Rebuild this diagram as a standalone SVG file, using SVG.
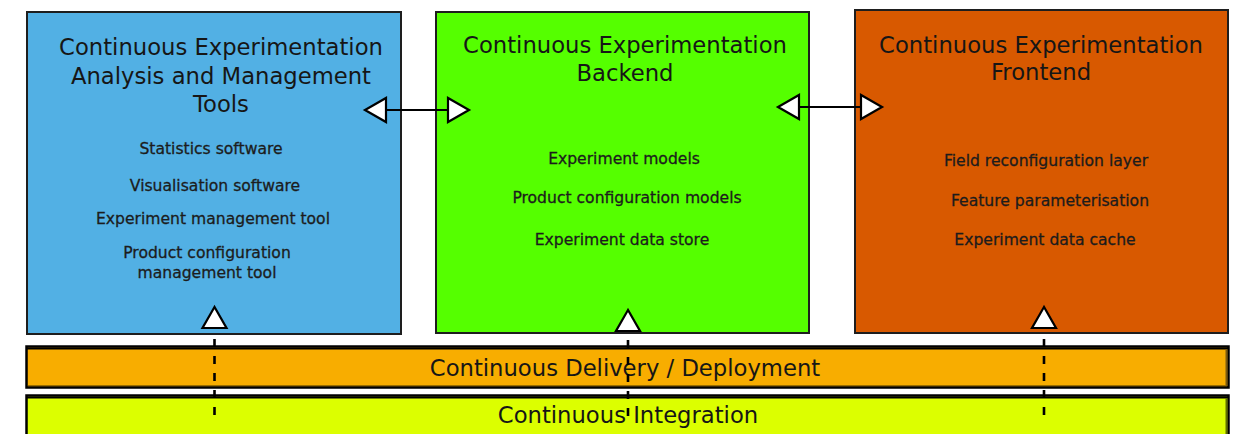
<svg xmlns="http://www.w3.org/2000/svg" width="1237" height="434" viewBox="0 0 1237 434">
  <style>
    .box { stroke: #1e1e1e; stroke-width: 2; }
    .band { stroke: #000; stroke-width: 2.5; }
    .title { font-family: "DejaVu Sans", "Liberation Sans", sans-serif; font-size: 22.7px; fill: #161616; text-anchor: middle; }
    .item { font-family: "DejaVu Sans", "Liberation Sans", sans-serif; font-size: 15.6px; fill: #1c1c1c; stroke: #1c1c1c; stroke-width: 0.3; text-anchor: middle; }
    .bandtext { font-family: "DejaVu Sans", "Liberation Sans", sans-serif; font-size: 22.7px; fill: #161616; text-anchor: middle; }
    .link { stroke: #000; stroke-width: 2; fill: none; }
    .dash { stroke: #000; stroke-width: 2.6; fill: none; stroke-dasharray: 8 9; }
    .head { fill: #fff; stroke: #000; stroke-width: 2.2; stroke-linejoin: miter; }
  </style>
  <defs>
    <!-- open triangular arrowhead, tip at the origin, pointing along +x -->
    <path id="head" class="head" d="M0,0 L-21,-12 L-21,12 Z"/>
  </defs>

  <rect width="1237" height="434" fill="#fff"/>

  <!-- analysis and management tools -->
  <g id="node-analysis">
    <rect class="box" x="27" y="12" width="374" height="322" fill="#52b0e4"/>
    <text class="title" x="221" y="55">Continuous Experimentation</text>
    <text class="title" x="221" y="84">Analysis and Management</text>
    <text class="title" x="221" y="112">Tools</text>
    <text class="item" x="211" y="154">Statistics software</text>
    <text class="item" x="215" y="191">Visualisation software</text>
    <text class="item" x="213" y="224">Experiment management tool</text>
    <text class="item" x="207" y="258">Product configuration</text>
    <text class="item" x="207" y="278">management tool</text>
  </g>

  <!-- backend -->
  <g id="node-backend">
    <rect class="box" x="436" y="12" width="373" height="321" fill="#55ff00"/>
    <text class="title" x="625" y="53">Continuous Experimentation</text>
    <text class="title" x="625" y="81">Backend</text>
    <text class="item" x="624" y="164">Experiment models</text>
    <text class="item" x="627" y="203">Product configuration models</text>
    <text class="item" x="622" y="245">Experiment data store</text>
  </g>

  <!-- frontend -->
  <g id="node-frontend">
    <rect class="box" x="855" y="10" width="373" height="323" fill="#d85900"/>
    <text class="title" x="1041" y="53">Continuous Experimentation</text>
    <text class="title" x="1041" y="80">Frontend</text>
    <text class="item" x="1046" y="166">Field reconfiguration layer</text>
    <text class="item" x="1050" y="206">Feature parameterisation</text>
    <text class="item" x="1045" y="245">Experiment data cache</text>
  </g>

  <!-- delivery band -->
  <g id="band-delivery">
    <rect class="band" x="26.5" y="346.5" width="1202" height="41" fill="#f8ad00"/>
    <line x1="26" y1="348.5" x2="1229" y2="348.5" stroke="#000" stroke-width="2"/>
    <line x1="1226.5" y1="349" x2="1226.5" y2="386" stroke="#7a5a10" stroke-width="2"/>
    <line x1="28" y1="385.5" x2="1226" y2="385.5" stroke="#9a6e00" stroke-width="1.2"/>
    <text class="bandtext" x="625" y="376">Continuous Delivery / Deployment</text>
  </g>

  <!-- integration band -->
  <g id="band-integration">
    <rect class="band" x="26.5" y="395.5" width="1202" height="44" fill="#dcff00"/>
    <line x1="26" y1="397.5" x2="1229" y2="397.5" stroke="#000" stroke-width="2"/>
    <line x1="1226.5" y1="398" x2="1226.5" y2="434" stroke="#5f6e00" stroke-width="2"/>
    <text class="bandtext" x="628" y="423">Continuous Integration</text>
  </g>

  <!-- connectors -->
  <g id="connectors">
    <line class="link" x1="386" y1="110" x2="448" y2="110"/>
    <use href="#head" transform="translate(365,110) rotate(180)"/>
    <use href="#head" transform="translate(469,110)"/>

    <line class="link" x1="799" y1="107" x2="861" y2="107"/>
    <use href="#head" transform="translate(778,107) rotate(180)"/>
    <use href="#head" transform="translate(882,107)"/>

    <line class="dash" x1="214.5" y1="339" x2="214.5" y2="417"/>
    <use href="#head" transform="translate(214.5,307) rotate(-90)"/>

    <line class="dash" x1="628" y1="340" x2="628" y2="418"/>
    <use href="#head" transform="translate(628,310) rotate(-90)"/>

    <line class="dash" x1="1044" y1="339" x2="1044" y2="417"/>
    <use href="#head" transform="translate(1044,307) rotate(-90)"/>
  </g>
</svg>
